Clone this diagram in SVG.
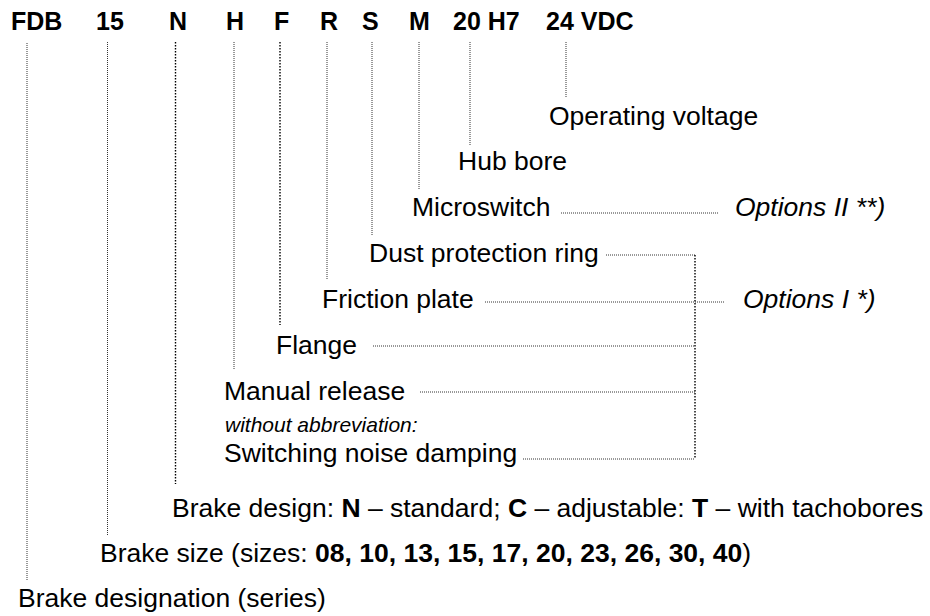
<svg xmlns="http://www.w3.org/2000/svg" width="930" height="616" viewBox="0 0 930 616">
<style>
text{font-family:"Liberation Sans",Arial,sans-serif;fill:#000}
.h{font-size:25px;font-weight:bold}
.l{font-size:26.5px}
.i{font-style:italic}
.s{font-size:21px}
.b{font-weight:bold}
.d{fill:none;stroke:#333;stroke-width:1;stroke-dasharray:1 1}
.D{fill:none;stroke:#000;stroke-width:1.4;stroke-dasharray:1.4 1.6}
</style>
<rect width="930" height="616" fill="#fff"/>
<g id="header">
<text class="h" x="11" y="30">FDB</text>
<text class="h" x="96" y="30">15</text>
<text class="h" x="169" y="30">N</text>
<text class="h" x="226" y="30">H</text>
<text class="h" x="274" y="30">F</text>
<text class="h" x="320" y="30">R</text>
<text class="h" x="362" y="30">S</text>
<text class="h" x="409" y="30">M</text>
<text class="h" x="453" y="30">20 H7</text>
<text class="h" x="546" y="30">24 VDC</text>
</g>
<g id="connectors">
<path class="d" d="M27 43V580"/>
<path class="d" d="M107.5 42V535"/>
<path class="D" d="M175.5 42V484"/>
<path class="d" d="M234 42V370"/>
<path class="D" d="M280 42V325"/>
<path class="d" d="M327 42V280"/>
<path class="d" d="M372 42V235"/>
<path class="d" d="M419 42V190"/>
<path class="d" d="M470 42V145"/>
<path class="d" d="M566 42V97"/>
<path class="d" d="M561 213H718"/>
<path class="d" d="M606 255H695"/>
<path class="d" d="M485 302H725"/>
<path class="d" d="M373 346H695"/>
<path class="d" d="M420 392H695"/>
<path class="d" d="M523 459H695"/>
<path class="D" d="M695 255V459"/>
</g>
<g id="operating-voltage"><text class="l" x="549" y="125">Operating voltage</text></g>
<g id="hub-bore"><text class="l" x="458" y="170">Hub bore</text></g>
<g id="microswitch"><text class="l" x="412" y="216">Microswitch</text></g>
<g id="options-2"><text class="l i" x="735" y="216">Options II **)</text></g>
<g id="dust-ring"><text class="l" x="369" y="262">Dust protection ring</text></g>
<g id="friction-plate"><text class="l" x="322" y="308">Friction plate</text></g>
<g id="options-1"><text class="l i" x="743" y="308">Options I *)</text></g>
<g id="flange"><text class="l" x="276" y="354">Flange</text></g>
<g id="manual-release"><text class="l" x="224" y="400">Manual release</text></g>
<g id="noise-damping">
<text class="s i" x="225" y="432">without abbreviation:</text>
<text class="l" x="224" y="462">Switching noise damping</text>
</g>
<g id="brake-design"><text class="l" x="172" y="517">Brake design: <tspan class="b">N</tspan> – standard; <tspan class="b">C</tspan> – adjustable: <tspan class="b">T</tspan> – with tachobores</text></g>
<g id="brake-size"><text class="l" x="100" y="562">Brake size (sizes: <tspan class="b">08, 10, 13, 15, 17, 20, 23, 26, 30, 40</tspan>)</text></g>
<g id="brake-designation"><text class="l" x="18" y="607">Brake designation (series)</text></g>
</svg>
